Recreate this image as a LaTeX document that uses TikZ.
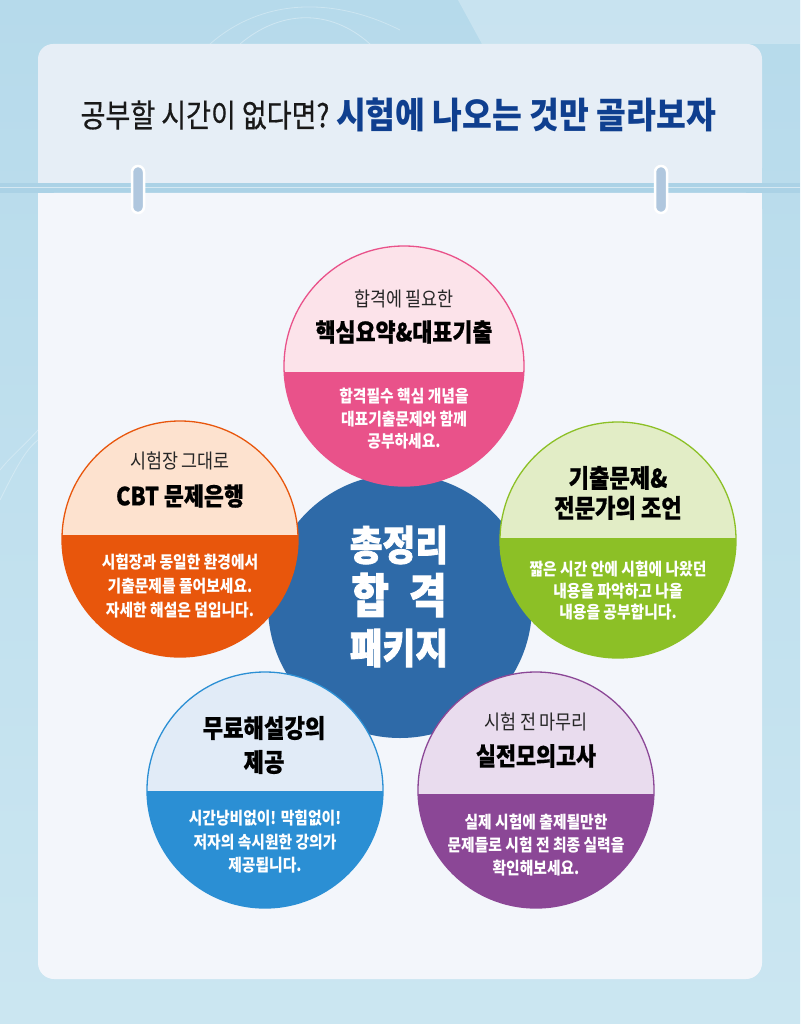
\documentclass[tikz,border=0pt]{standalone}
\usepackage{fontspec}
\newfontfamily\kr[FakeStretch=0.87]{Noto Sans CJK KR}
\newfontfamily\krT[FakeStretch=0.87,BoldFeatures={FakeBold=0.6}]{Noto Sans CJK KR}
\newfontfamily\krH[FakeStretch=0.87,BoldFeatures={FakeBold=1.8}]{Noto Sans CJK KR}
\newfontfamily\ttlf[FakeStretch=0.845,FakeBold=0.5]{Noto Sans CJK KR}
\newfontfamily\ttlg[FakeStretch=0.9]{Noto Sans CJK KR}
\definecolor{bgtop}{HTML}{B6DAEB}
\definecolor{bgbot}{HTML}{CBE6F1}
\definecolor{hdrc}{HTML}{E6EEF6}
\definecolor{cardc}{HTML}{F3F6FB}
\definecolor{stripc}{HTML}{ABD2E6}
\definecolor{ringc}{HTML}{B0C7DE}
\definecolor{ttlblue}{HTML}{0F3F8F}
\definecolor{coreblue}{HTML}{2E6AA8}
\definecolor{pinkU}{HTML}{FCE3EA}
\definecolor{pinkL}{HTML}{E9528A}
\definecolor{oraU}{HTML}{FDE2CF}
\definecolor{oraL}{HTML}{E8560C}
\definecolor{grnU}{HTML}{E2EDC6}
\definecolor{grnL}{HTML}{8CC026}
\definecolor{bluU}{HTML}{E1EBF7}
\definecolor{bluL}{HTML}{2B8FD4}
\definecolor{purU}{HTML}{E9DCEE}
\definecolor{purL}{HTML}{8B4796}
\newcommand\halfdisc[7]{%
  \begin{scope}
    \clip (#2,#3) circle[radius=#4pt];
    \fill[#6] ({#2-#4},{#3-#4}) rectangle ({#2+#4},#5);
    \fill[#7] ({#2-#4},#5) rectangle ({#2+#4},{#3+#4});
  \end{scope}
  \node[circle, draw=#7, line width=1.3pt, minimum size={2*#4pt}, inner sep=0pt] (#1) at (#2,#3) {};
}
\begin{document}
\begin{tikzpicture}[x=1pt,y=-1pt,
  hdrtxt/.style={inner sep=0pt, font=\kr\fontsize{20}{24}\selectfont, text=black!85},
  headtxt/.style={inner sep=0pt, align=center, font=\krT\bfseries\fontsize{25}{32}\selectfont, text=black},
  bodytxt/.style={inner sep=0pt, align=center, font=\kr\bfseries\fontsize{17}{23}\selectfont, text=white},
  coretxt/.style={inner sep=0pt, font=\krH\bfseries, text=white},
  ringbox/.style={draw=white, line width=2.5pt, fill=ringc, rounded corners=6pt}]
\useasboundingbox (0,0) rectangle (800,1024);
% background
\shade[top color=bgtop, bottom color=bgbot] (0,0) rectangle (800,1024);
\fill[white, opacity=0.25] (458,0) -- (800,0) -- (800,44) -- (482,44) -- cycle;
\draw[white, opacity=0.35, line width=0.8pt] (240,44) .. controls (280,10) and (330,8) .. (370,44);
\draw[white, opacity=0.3, line width=0.8pt] (210,44) .. controls (260,0) and (330,-5) .. (400,30);
\draw[white, opacity=0.3, line width=0.8pt] (0,500) .. controls (15,470) and (25,450) .. (38,440);
\draw[white, opacity=0.3, line width=0.8pt] (0,470) .. controls (12,455) and (25,445) .. (38,430);
% strip between header and body
\fill[stripc] (0,183) rectangle (800,193);
\draw[white, opacity=0.5, line width=0.6pt] (0,187) -- (800,187);
% header
\fill[hdrc, rounded corners=15pt] (38,44) rectangle (762,183);
\fill[hdrc] (38,160) rectangle (762,183);
% body card
\fill[cardc, rounded corners=16pt] (38,193) rectangle (762,979);
\fill[cardc] (38,193) rectangle (762,230);
% rings
\draw[ringbox] (132,166) rectangle (144,213);
\draw[ringbox] (655,166) rectangle (667,213);
% title
\node[inner sep=0pt, font=\ttlf\fontsize{32}{36}\selectfont, text=black!90] (ttlA) at (205,115) {공부할 시간이 없다면?};
\node[inner sep=0pt, font=\ttlg\bfseries\fontsize{36}{40}\selectfont, text=ttlblue] (ttlB) at (526,115) {시험에 나오는 것만 골라보자};
% core circle
\node[circle, fill=coreblue, minimum size=264pt, inner sep=0pt] (core) at (400,606) {};
% five half discs
\halfdisc{pink}{404}{366}{120}{372}{pinkU}{pinkL}
\halfdisc{orange}{180}{539}{118}{535}{oraU}{oraL}
\halfdisc{green}{618}{540}{118}{538}{grnU}{grnL}
\halfdisc{blue}{265}{790}{118}{791}{bluU}{bluL}
\halfdisc{purple}{536}{790}{118}{794}{purU}{purL}
% core text
\node[coretxt, font=\krH\bfseries\fontsize{41}{43}\selectfont] (coreA) at (399,545) {총정리};
\node[coretxt, font=\krH\bfseries\fontsize{47}{49}\selectfont] (coreB) at (399,595) {합\hspace{20pt}격};
\node[coretxt, font=\krH\bfseries\fontsize{41}{43}\selectfont] (coreC) at (399,648) {패키지};
% pink texts
\node[hdrtxt] (pinkA) at (404,299) {합격에 필요한};
\node[headtxt] (pinkB) at (404,332) {핵심요약\&대표기출};
\node[bodytxt, font=\kr\bfseries\fontsize{17}{22.5}\selectfont] (pinkC) at (404,419) {합격필수 핵심 개념을\\대표기출문제와 함께\\공부하세요.};
% orange texts
\node[hdrtxt] (oraA) at (180,461) {시험장 그대로};
\node[headtxt] (oraB) at (180,496) {CBT 문제은행};
\node[bodytxt, font=\kr\bfseries\fontsize{17}{24}\selectfont] (oraC) at (180,586) {시험장과 동일한 환경에서\\기출문제를 풀어보세요.\\자세한 해설은 덤입니다.};
% green texts
\node[headtxt, font=\krT\bfseries\fontsize{25.5}{30}\selectfont] (grnA) at (618,493) {기출문제\&\\전문가의 조언};
\node[bodytxt, font=\kr\bfseries\fontsize{17}{21.5}\selectfont] (grnC) at (618,591) {짧은 시간 안에 시험에 나왔던\\내용을 파악하고 나올\\내용을 공부합니다.};
% blue texts
\node[headtxt, font=\krT\bfseries\fontsize{25.5}{34}\selectfont] (bluA) at (264,745) {무료해설강의\\제공};
\node[bodytxt, font=\kr\bfseries\fontsize{17}{23.5}\selectfont] (bluC) at (265,842) {시간낭비없이! 막힘없이!\\저자의 속시원한 강의가\\제공됩니다.};
% purple texts
\node[hdrtxt] (purA) at (536,722) {시험 전 마무리};
\node[headtxt] (purB) at (536,756) {실전모의고사};
\node[bodytxt, font=\kr\bfseries\fontsize{17}{23}\selectfont] (purC) at (536,845) {실제 시험에 출제될만한\\문제들로 시험 전 최종 실력을\\확인해보세요.};
\end{tikzpicture}
\end{document}
